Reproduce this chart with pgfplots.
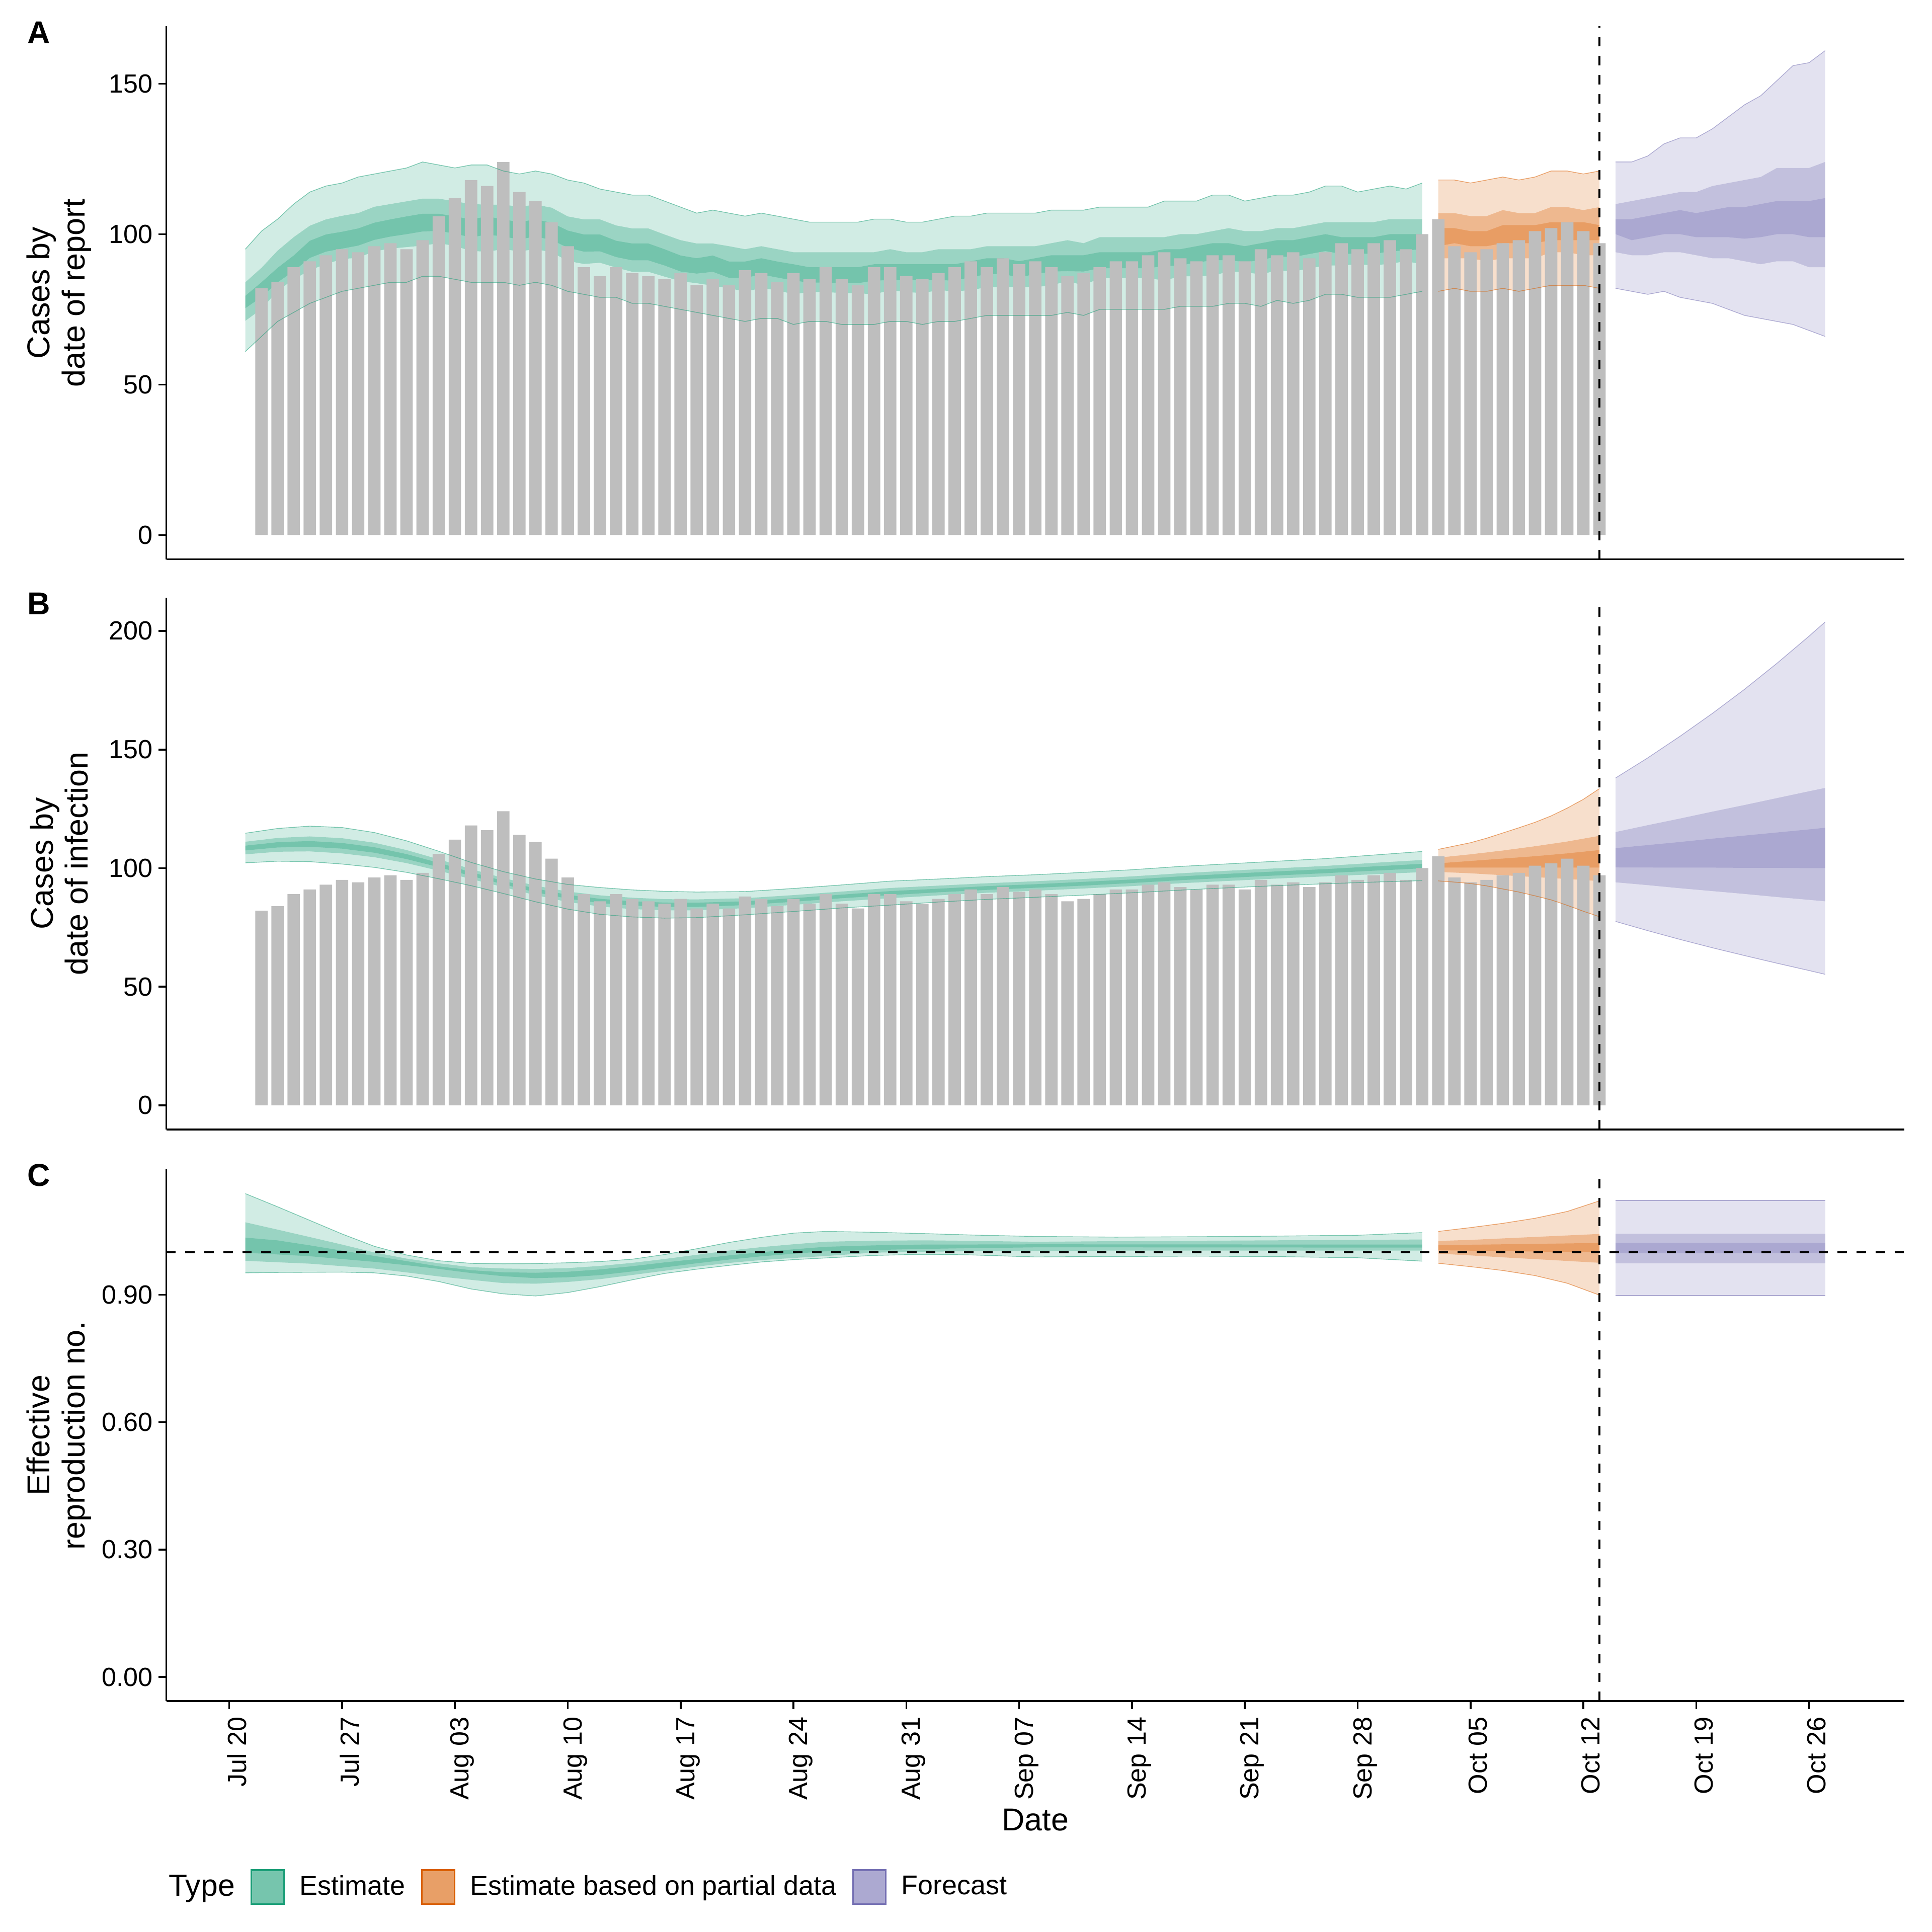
\documentclass[border=0pt]{standalone}
\usepackage{pgfplots}
\pgfplotsset{compat=1.18}
\usepgfplotslibrary{fillbetween}
\usepackage{pgfplotstable}
\usepackage{fontspec}
\setmainfont{Liberation Sans}

\definecolor{cgreen}{HTML}{1B9E77}
\definecolor{corange}{HTML}{D95F02}
\definecolor{cpurple}{HTML}{7570B3}
\definecolor{kgreen}{RGB}{118,197,173}
\definecolor{korange}{RGB}{232,159,103}
\definecolor{kpurple}{RGB}{172,169,209}
\definecolor{barcol}{HTML}{BEBEBE}

% reported cases (day 0 = Jul 20)
\pgfplotstableread{
d c
2 82
3 84
4 89
5 91
6 93
7 95
8 94
9 96
10 97
11 95
12 98
13 106
14 112
15 118
16 116
17 124
18 114
19 111
20 104
21 96
22 89
23 86
24 89
25 87
26 86
27 85
28 87
29 83
30 85
31 83
32 88
33 87
34 84
35 87
36 85
37 89
38 85
39 83
40 89
41 89
42 86
43 85
44 87
45 89
46 91
47 89
48 92
49 90
50 91
51 89
52 86
53 87
54 89
55 91
56 91
57 93
58 94
59 92
60 91
61 93
62 93
63 91
64 95
65 93
66 94
67 92
68 94
69 97
70 95
71 97
72 98
73 95
74 100
75 105
76 96
77 94
78 95
79 97
80 98
81 101
82 102
83 104
84 101
85 97
}\cases

% Panel A: cases by date of report
\pgfplotstableread{
d lo90 lo50 lo20 hi20 hi50 hi90
1 61 71.2 75.4 79.5 84.0 95
2 66 75.1 79.1 84.0 88.8 101
3 71 81.2 84.0 88.8 94.5 105
4 74 85.0 87.7 92.9 99.0 110
5 77 88.0 92.1 97.8 102.8 114
6 79 90.1 94.2 99.9 104.9 116
7 81 91.7 95.2 100.8 106.1 117
8 82 92.2 96.2 101.9 107.0 119
9 83 94.3 98.1 103.8 109.1 120
10 84 95.2 99.2 104.9 110.0 121
11 84 95.7 100.0 105.9 110.9 122
12 86 96.2 100.9 106.8 111.8 124
13 86 97.0 101.1 106.8 111.8 123
14 85 96.1 100.2 105.9 110.9 122
15 84 94.4 98.9 104.9 110.0 123
16 84 94.2 99.9 105.9 109.8 123
17 84 95.0 99.2 104.9 109.8 121
18 83 94.3 98.3 104.0 109.1 120
19 84 95.0 99.2 104.9 109.8 121
20 83 94.0 98.1 103.8 108.8 120
21 81 91.1 95.5 101.2 105.9 118
22 80 90.1 94.2 99.9 104.9 117
23 79 90.5 94.3 99.9 104.9 115
24 79 88.9 92.4 97.8 102.9 114
25 77 87.5 91.3 96.9 101.9 113
26 77 87.5 91.3 96.9 101.9 113
27 76 85.9 89.6 95.0 99.9 111
28 75 84.4 87.6 92.9 98.0 109
29 74 83.7 86.9 92.0 96.9 107
30 73 82.9 87.5 92.9 96.9 108
31 72 82.0 85.5 90.9 96.0 107
32 71 81.0 85.5 90.9 95.0 106
33 72 82.0 86.6 92.0 96.0 107
34 72 81.4 85.6 90.9 95.0 106
35 70 80.0 84.6 90.0 94.0 105
36 71 80.8 83.9 89 94 104
37 71 80.8 83.9 89 94 104
38 70 80.4 83.7 89 94 104
39 70 80.4 83.7 89 94 104
40 70 80.0 84.6 90 94 105
41 71 81.4 84.7 90 95 105
42 71 80.8 84.9 90 94 104
43 70 80.4 84.7 90 94 104
44 71 81.4 84.7 90 95 105
45 71 81.0 84.6 90 95 106
46 72 81.4 85.7 91 95 106
47 73 82.4 86.7 92 96 107
48 73 82.4 86.7 92 96 107
49 73 82.4 85.7 91 96 107
50 73 82.4 86.7 92 96 107
51 73 83.0 87.6 93 97 108
52 74 84.4 87.7 93 98 108
53 73 83.0 87.6 93 97 108
54 75 85.4 88.7 94 99 109
55 75 85.4 88.7 94 99 109
56 75 85.4 88.7 94 99 109
57 75 85.4 88.7 94 99 109
58 75 84.6 89.4 95 99 111
59 76 86.0 89.6 95 100 111
60 76 86.0 90.6 96 100 111
61 76 86.2 91.3 97 101 113
62 77 87.6 91.4 97 102 113
63 77 87.4 90.7 96 101 111
64 76 86.6 91.4 97 101 112
65 78 88.0 92.6 98 102 113
66 77 87.6 92.4 98 102 113
67 78 88.6 93.4 99 103 114
68 80 89.6 94.4 100 104 116
69 80 89.6 93.4 99 104 116
70 79 90.0 93.6 99 104 114
71 79 89.6 93.4 99 104 115
72 79 90.2 94.3 100 105 116
73 80 91.0 94.6 100 105 115
74 81 90.0 95.0 100 105 117
}\Agreen
\pgfplotstableread{
d lo90 lo50 lo20 hi20 hi50 hi90
75 81 92 96 102 107 118
76 82 92 97 102 107 118
77 81 92 96 101 106 117
78 81 91 96 101 106 118
79 82 92 97 103 108 119
80 81 92 97 103 107 118
81 82 92 97 103 107 119
82 83 94 98 104 109 121
83 83 94 98 104 109 121
84 83 93 98 104 108 120
85 82 93 98 103 109 121
}\Aorange
\pgfplotstableread{
d lo90 lo50 lo20 hi20 hi50 hi90
86 82 94 100 105 110 124
87 81 93 98 105 111 124
88 80 93 99 106 112 126
89 81 94 100 107 113 130
90 79 94 100 108 114 132
91 78 93 99 107 114 132
92 77 92 99 108 116 135
93 75 92 99 109 117 139
94 73 91 98.5 109 118 143
95 72 90 99 110 119 146
96 71 91 100 111 122 151
97 70 91 100 111 122 156
98 68 89 99 111 122 157
99 66 89 99 112 124 161
}\Apurple

% Panel B: cases by date of infection
\pgfplotstableread{
d lo90 lo50 lo20 hi20 hi50 hi90
1 102.2 105.8 107.45 109.45 111.1 114.7
3 102.9 106.9 108.7 110.9 112.7 116.7
5 102.7 107.05 109.0 111.4 113.35 117.7
7 101.7 106.2 108.2 110.6 112.6 117.1
9 100.3 104.6 106.5 108.8 110.7 115.0
11 98.2 102.1 103.8 105.9 107.6 111.5
13 95.5 98.9 100.4 102.2 103.7 107.1
15 92.6 95.4 96.7 98.3 99.6 102.4
17 89.3 92.0 93.2 94.6 95.8 98.5
19 85.8 88.6 89.8 91.4 92.6 95.4
21 82.7 85.7 87.1 88.7 90.1 93.1
23 80.5 83.8 85.25 87.05 88.5 91.8
25 79.4 82.7 84.2 86.0 87.5 90.8
27 78.9 82.2 83.65 85.45 86.9 90.2
29 79.1 82.2 83.6 85.4 86.8 89.9
32 80.3 83.1 84.4 86.0 87.3 90.1
35 81.7 84.5 85.8 87.3 88.6 91.4
38 83.2 86.0 87.3 88.8 90.1 92.9
41 84.4 87.3 88.6 90.3 91.6 94.5
44 85.7 88.5 89.8 91.3 92.6 95.4
47 86.8 89.6 90.8 92.4 93.6 96.4
50 87.7 90.45 91.7 93.2 94.45 97.2
53 88.6 91.4 92.6 94.2 95.4 98.2
56 89.6 92.4 93.7 95.2 96.5 99.3
59 90.7 93.6 94.9 96.5 97.8 100.7
62 91.7 94.6 95.9 97.6 98.9 101.8
65 92.6 95.6 96.9 98.6 99.9 102.9
68 93.4 96.5 97.85 99.55 100.9 104.0
71 94.1 97.4 98.9 100.7 102.2 105.5
74 94.7 98.3 99.9 101.8 103.4 107.0
}\Bgreen
\pgfplotstableread{
d lo90 lo50 lo20 hi20 hi50 hi90
75 94.6 98.4 100.2 102.0 104.4 107.9
76 94.1 98.1 100.2 102.5 105.1 109.3
77 93.5 97.8 100.2 103.0 105.8 110.7
78 92.5 97.4 100.2 103.5 106.6 112.6
79 91.2 97.0 100.2 104.0 107.4 114.8
80 89.9 96.6 100.2 104.5 108.3 117.0
81 88.3 96.2 100.2 105.0 109.2 119.3
82 86.6 95.8 100.2 105.6 110.2 122.0
83 84.3 95.4 100.2 106.2 111.2 125.3
84 81.8 95.0 100.2 106.9 112.4 129.0
85 79.5 94.5 100.2 107.6 113.6 133.5
}\Borange
\pgfplotstableread{
d lo90 lo50 lo20 hi20 hi50 hi90
86 77.5 94.0 100.3 108.4 115.2 138.0
88 73.6 92.8 100.25 109.7 118.1 146.5
90 69.9 91.5 100.2 111.0 120.9 155.6
92 66.4 90.3 100.2 112.4 123.8 165.2
94 63.1 89.1 100.1 113.7 126.6 175.4
96 59.9 87.8 100.1 115.0 129.5 186.3
98 56.8 86.6 100.0 116.3 132.4 197.8
99 55.2 86.0 100.0 117.0 133.8 203.8
}\Bpurple

% Panel C: effective reproduction number
\pgfplotstableread{
d lo90 lo50 lo20 hi20 hi50 hi90
1 0.9514 0.9798 0.9988 1.0344 1.0705 1.138
3 0.9524 0.9764 0.9948 1.0278 1.0532 1.107
5 0.9528 0.9731 0.9906 1.0162 1.0357 1.075
7 0.9532 0.9672 0.9840 1.0037 1.0180 1.043
9 0.9514 0.9615 0.9774 0.9913 0.9995 1.014
11 0.9440 0.9525 0.9695 0.9790 0.9850 0.9935
13 0.9310 0.9430 0.9608 0.9666 0.9740 0.9800
15 0.9135 0.9350 0.9510 0.9577 0.9648 0.9738
17 0.9020 0.9273 0.9436 0.9528 0.9617 0.9728
19 0.8970 0.9259 0.9390 0.9516 0.9605 0.9733
21 0.9050 0.9300 0.9410 0.9540 0.9626 0.9752
23 0.9190 0.9366 0.9462 0.9595 0.9677 0.9780
25 0.9350 0.9464 0.9547 0.9670 0.9749 0.9836
27 0.9500 0.9563 0.9643 0.9760 0.9840 0.9945
29 0.9600 0.9662 0.9740 0.9839 0.9939 1.0082
31 0.9690 0.9748 0.9827 0.9925 1.0038 1.0230
33 0.9770 0.9816 0.9904 1.0001 1.0120 1.0350
35 0.9825 0.9865 0.9964 1.0068 1.0187 1.0450
37 0.9865 0.9911 1.0022 1.0128 1.0247 1.0490
40 0.9925 0.9990 1.0052 1.0161 1.0271 1.0470
43 0.9950 1.0010 1.0078 1.0180 1.0280 1.0440
46 0.9937 1.0025 1.0096 1.0182 1.0268 1.0406
50 0.9889 1.0035 1.0115 1.0186 1.0245 1.0371
55 0.9900 1.0038 1.0115 1.0185 1.0260 1.0356
60 0.9908 1.0040 1.0113 1.0183 1.0270 1.0365
65 0.9896 1.0040 1.0112 1.0182 1.0280 1.0380
70 0.9870 1.0040 1.0110 1.0180 1.0290 1.0400
74 0.9790 1.0040 1.0110 1.0180 1.0300 1.0462
}\Cgreen
\pgfplotstableread{
d lo90 lo50 lo20 hi20 hi50 hi90
75 0.974 0.9968 1.0047 1.0166 1.0265 1.049
77 0.966 0.9925 1.0037 1.0176 1.029 1.058
79 0.957 0.988 1.0027 1.0186 1.0325 1.068
81 0.945 0.9838 1.0016 1.0196 1.036 1.080
83 0.927 0.9795 1.0006 1.0207 1.0395 1.096
85 0.899 0.9751 0.9996 1.0217 1.043 1.121
}\Corange
\pgfplotstableread{
d lo90 lo50 lo20 hi20 hi50 hi90
86 0.898 0.9735 0.9972 1.0221 1.0434 1.1221
99 0.898 0.9735 0.9972 1.0221 1.0434 1.1221
}\Cpurple

\newcommand{\ribbon}[3]{%
  \addplot[name path=#3a, draw=none] table[x=d,y=lo90]{#1};
  \addplot[name path=#3b, draw=none] table[x=d,y=lo50]{#1};
  \addplot[name path=#3c, draw=none] table[x=d,y=lo20]{#1};
  \addplot[name path=#3d, draw=none] table[x=d,y=hi20]{#1};
  \addplot[name path=#3e, draw=none] table[x=d,y=hi50]{#1};
  \addplot[name path=#3f, draw=none] table[x=d,y=hi90]{#1};
  \addplot[fill=#2, fill opacity=0.2, draw=none] fill between[of=#3f and #3a];
  \addplot[fill=#2, fill opacity=0.3, draw=none] fill between[of=#3e and #3b];
  \addplot[fill=#2, fill opacity=0.3, draw=none] fill between[of=#3d and #3c];
  \addplot[#2, line width=0.3pt, draw opacity=0.55] table[x=d,y=lo90]{#1};
  \addplot[#2, line width=0.3pt, draw opacity=0.55] table[x=d,y=hi90]{#1};
}

\pgfplotsset{
  common/.style={
    scale only axis, width=768.67pt, anchor=south west,
    xmin=-3.9, xmax=103.9,
    axis x line*=bottom, axis y line*=left,
    axis line style={line width=0.8pt, black},
    tick style={line width=0.8pt, black},
    major tick length=3.5pt,
    tick align=outside,
    tick label style={font=\fontsize{11.6}{14}\selectfont, black},
    y tick label style={xshift=1pt},
    /pgf/number format/assume math mode=true,
    ylabel style={font=\fontsize{14}{15.5}\selectfont, align=center,
      at={(axis description cs:-0.0617,0.5)}, anchor=center},
  },
  refline/.style={black, line width=0.9pt, dash pattern=on 4.2pt off 4.2pt},
}

\begin{document}
\begin{tikzpicture}

% ---------------- Panel A
\begin{axis}[common, at={(73.575pt,-247.38pt)}, height=235.71pt,
  ymin=-8.05, ymax=169.05, ytick={0,50,100,150}, xtick=\empty,
  ylabel={Cases by\\date of report}]
\addplot[ybar, bar width=0.77, bar shift=0pt, fill=barcol, draw=none] table[x=d,y=c]{\cases};
\ribbon{\Agreen}{cgreen}{ag}
\ribbon{\Aorange}{corange}{ao}
\ribbon{\Apurple}{cpurple}{ap}
\addplot[refline] coordinates {(85,-8.05) (85,169.05)};
\end{axis}

% ---------------- Panel B
\begin{axis}[common, at={(73.575pt,-499.55pt)}, height=235.17pt,
  ymin=-10.19, ymax=214.0, ytick={0,50,100,150,200}, xtick=\empty,
  ylabel={Cases by\\date of infection}]
\addplot[ybar, bar width=0.77, bar shift=0pt, fill=barcol, draw=none] table[x=d,y=c]{\cases};
\ribbon{\Bgreen}{cgreen}{bg}
\ribbon{\Borange}{corange}{bo}
\ribbon{\Bpurple}{cpurple}{bp}
\addplot[refline] coordinates {(85,-10.19) (85,214.0)};
\end{axis}

% ---------------- Panel C
\begin{axis}[common, at={(73.575pt,-752.43pt)}, height=235.17pt,
  ymin=-0.0569, ymax=1.1949, ytick={0,0.3,0.6,0.9},
  yticklabels={0.00,0.30,0.60,0.90},
  xtick={0,7,...,98},
  xticklabels={Jul 20,Jul 27,Aug 03,Aug 10,Aug 17,Aug 24,Aug 31,Sep 07,Sep 14,Sep 21,Sep 28,Oct 05,Oct 12,Oct 19,Oct 26},
  x tick label style={xshift=3.3pt, rotate=90, anchor=east},
  xlabel={Date},
  xlabel style={font=\fontsize{14}{16}\selectfont, at={(axis description cs:0.5,-0.2234)}, anchor=center},
  ylabel={Effective\\reproduction no.},
  legend columns=4,
  legend cell align=left,
  legend style={at={(axis description cs:-0.0075,-0.3497)}, anchor=west, draw=none, fill=none,
    inner sep=0pt, font=\fontsize{12}{14}\selectfont,
    /tikz/every odd column/.append style={column sep=4.6pt},
    /tikz/every even column/.append style={column sep=5pt}},
]
\addlegendimage{empty legend}
\addlegendentry{\fontsize{13.5}{16}\selectfont Type}
\addlegendimage{legend image code/.code={\draw[fill=kgreen, draw=cgreen, line width=0.7pt] (0pt,-7.5pt) rectangle (14.4pt,7.5pt);}}
\addlegendentry{Estimate}
\addlegendimage{legend image code/.code={\draw[fill=korange, draw=corange, line width=0.7pt] (0pt,-7.5pt) rectangle (14.4pt,7.5pt);}}
\addlegendentry{Estimate based on partial data}
\addlegendimage{legend image code/.code={\draw[fill=kpurple, draw=cpurple, line width=0.7pt] (0pt,-7.5pt) rectangle (14.4pt,7.5pt);}}
\addlegendentry{Forecast}
\ribbon{\Cgreen}{cgreen}{cg}
\ribbon{\Corange}{corange}{co}
\ribbon{\Cpurple}{cpurple}{cp}
\addplot[refline] coordinates {(85,-0.0569) (85,1.1949)};
\addplot[refline] coordinates {(-3.9,1) (103.9,1)};
\end{axis}

\node[font=\bfseries\fontsize{14}{16}\selectfont] at (17.17pt,-14.44pt) {A};
\node[font=\bfseries\fontsize{14}{16}\selectfont] at (17.17pt,-267.05pt) {B};
\node[font=\bfseries\fontsize{14}{16}\selectfont] at (17.17pt,-519.9pt) {C};

\pgfresetboundingbox
\path[use as bounding box] (0,0) rectangle (854.56pt,-854.56pt);
\end{tikzpicture}
\end{document}
